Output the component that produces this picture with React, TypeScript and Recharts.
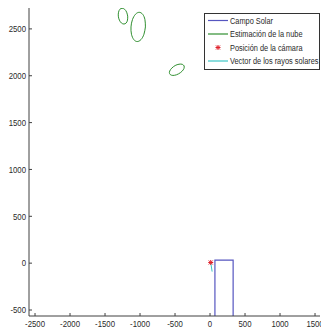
import React from 'react';
import { ComposedChart, Line, Scatter, XAxis, YAxis, Legend } from 'recharts';

// outline points (x, y in metres)
const campoSolar = [
  { x: 70, y: -700 },
  { x: 70, y: 32 },
  { x: 330, y: 32 },
  { x: 330, y: -700 },
];

const nube1 = [
  { x: -1176, y: 2636 }, { x: -1191, y: 2678 }, { x: -1220, y: 2709 }, { x: -1256, y: 2720 },
  { x: -1288, y: 2709 }, { x: -1307, y: 2678 }, { x: -1310, y: 2636 }, { x: -1295, y: 2594 },
  { x: -1266, y: 2563 }, { x: -1230, y: 2552 }, { x: -1198, y: 2563 }, { x: -1179, y: 2594 },
  { x: -1176, y: 2636 },
];

const nube2 = [
  { x: -923, y: 2521 }, { x: -930, y: 2599 }, { x: -962, y: 2656 }, { x: -1012, y: 2677 },
  { x: -1065, y: 2656 }, { x: -1108, y: 2599 }, { x: -1129, y: 2521 }, { x: -1122, y: 2443 },
  { x: -1089, y: 2386 }, { x: -1040, y: 2365 }, { x: -986, y: 2386 }, { x: -944, y: 2443 },
  { x: -923, y: 2521 },
];

const nube3 = [
  { x: -370, y: 2105 }, { x: -396, y: 2122 }, { x: -443, y: 2123 }, { x: -498, y: 2109 },
  { x: -547, y: 2081 }, { x: -576, y: 2050 }, { x: -578, y: 2023 }, { x: -552, y: 2006 },
  { x: -505, y: 2005 }, { x: -450, y: 2020 }, { x: -401, y: 2047 }, { x: -372, y: 2078 },
  { x: -370, y: 2105 },
];

const camara = [{ x: 10, y: 7 }];

const rayos = [
  { x: 10, y: 5 },
  { x: 30, y: -90 },
];

const xTicks = [-2500, -2000, -1500, -1000, -500, 0, 500, 1000, 1500];
const yTicks = [-500, 0, 500, 1000, 1500, 2000, 2500];
const xDomain = [-2586, 1571];
const yDomain = [-564, 2723];

const AXIS = '#404040';
const FONT = '"Liberation Sans", Arial, sans-serif';
const SQUEEZE = 0.82; // the original uses a narrow face

const BLUE = '#5656c0';
const GREEN = '#2f8f2f';
const RED = '#e0202a';
const CYAN = '#3cc4c4';

// text drawn in a condensed look
const Narrow = ({ x, y, anchor = 'start', size = 9, children }: any) => (
  <text
    transform={`translate(${x},${y}) scale(${SQUEEZE},1)`}
    textAnchor={anchor}
    fontSize={size}
    fontFamily={FONT}
    fill="#2a2a2a"
  >
    {children}
  </text>
);

const Star = ({ cx, cy }: any) => (
  <g stroke={RED} strokeWidth={1}>
    <line x1={cx - 2.5} y1={cy} x2={cx + 2.5} y2={cy} />
    <line x1={cx} y1={cy - 2.5} x2={cx} y2={cy + 2.5} />
    <line x1={cx - 2} y1={cy - 2} x2={cx + 2} y2={cy + 2} />
    <line x1={cx - 2} y1={cy + 2} x2={cx + 2} y2={cy - 2} />
  </g>
);

const BottomTick = ({ x, y, payload }: any) => (
  <g>
    <line x1={x} y1={y} x2={x} y2={y - 3} stroke={AXIS} />
    <Narrow x={x} y={y + 10.5} anchor="middle" size={9.5}>
      {payload.value}
    </Narrow>
  </g>
);

const LeftTick = ({ x, y, payload }: any) => (
  <g>
    <line x1={x} y1={y} x2={x + 3} y2={y} stroke={AXIS} />
    <Narrow x={x - 3} y={y + 3.3} anchor="end" size={9.5}>
      {payload.value}
    </Narrow>
  </g>
);

const TopTick = ({ x, y }: any) => <line x1={x} y1={y} x2={x} y2={y + 3} stroke={AXIS} />;
const RightTick = ({ x, y }: any) => <line x1={x} y1={y} x2={x - 3} y2={y} stroke={AXIS} />;

const legendItems = [
  { name: 'Campo Solar', color: BLUE, kind: 'line' },
  { name: 'Estimación de la nube', color: GREEN, kind: 'line' },
  { name: 'Posición de la cámara', color: RED, kind: 'star' },
  { name: 'Vector de los rayos solares', color: CYAN, kind: 'line' },
];

const LegendBox = () => (
  <svg width={116} height={57} style={{ display: 'block' }}>
    <rect x={0.5} y={0.5} width={115} height={56} fill="#fff" stroke="#333" />
    {legendItems.map((it, i) => {
      const cy = 7.5 + i * 13.5;
      return (
        <g key={it.name}>
          {it.kind === 'line' ? (
            <line x1={4} y1={cy} x2={24} y2={cy} stroke={it.color} strokeWidth={1.2} />
          ) : (
            <Star cx={14} cy={cy} />
          )}
          <Narrow x={26} y={cy + 3.2} size={9}>
            {it.name}
          </Narrow>
        </g>
      );
    })}
  </svg>
);

export default function App() {
  return (
    <div style={{ position: 'fixed', left: 0, top: 0, background: '#fff' }}>
      <ComposedChart width={321} height={329} margin={{ top: 8, right: 1, bottom: 0, left: 0 }}>
        <XAxis
          xAxisId="b"
          dataKey="x"
          type="number"
          domain={xDomain}
          ticks={xTicks}
          allowDataOverflow
          height={13}
          tickSize={0}
          tickMargin={0}
          tick={<BottomTick />}
          axisLine={{ stroke: AXIS }}
          interval={0}
        />
        <XAxis
          xAxisId="t"
          orientation="top"
          type="number"
          domain={xDomain}
          ticks={xTicks}
          allowDataOverflow
          height={0}
          tickSize={0}
          tickMargin={0}
          tick={<TopTick />}
          axisLine={{ stroke: AXIS }}
          interval={0}
        />
        <YAxis
          yAxisId="l"
          dataKey="y"
          type="number"
          domain={yDomain}
          ticks={yTicks}
          allowDataOverflow
          width={29}
          tickSize={0}
          tickMargin={0}
          tick={<LeftTick />}
          axisLine={{ stroke: AXIS }}
          interval={0}
        />
        <YAxis
          yAxisId="r"
          orientation="right"
          type="number"
          domain={yDomain}
          ticks={yTicks}
          allowDataOverflow
          width={0}
          tickSize={0}
          tickMargin={0}
          tick={<RightTick />}
          axisLine={{ stroke: '#9a9a9a' }}
          interval={0}
        />
        <Line xAxisId="b" yAxisId="l" data={campoSolar} dataKey="y" name="Campo Solar" type="linear" stroke={BLUE} strokeWidth={1.2} dot={false} activeDot={false} isAnimationActive={false} />
        <Line xAxisId="b" yAxisId="l" data={nube1} dataKey="y" name="Estimación de la nube" type="natural" stroke={GREEN} strokeWidth={1} dot={false} activeDot={false} isAnimationActive={false} />
        <Line xAxisId="b" yAxisId="l" data={nube2} dataKey="y" legendType="none" type="natural" stroke={GREEN} strokeWidth={1} dot={false} activeDot={false} isAnimationActive={false} />
        <Line xAxisId="b" yAxisId="l" data={nube3} dataKey="y" legendType="none" type="natural" stroke={GREEN} strokeWidth={1} dot={false} activeDot={false} isAnimationActive={false} />
        <Scatter xAxisId="b" yAxisId="l" data={camara} dataKey="y" name="Posición de la cámara" fill={RED} shape={<Star />} isAnimationActive={false} />
        <Line xAxisId="b" yAxisId="l" data={rayos} dataKey="y" name="Vector de los rayos solares" type="linear" stroke={CYAN} strokeWidth={1} dot={false} activeDot={false} isAnimationActive={false} />
        <Legend
          layout="vertical"
          align="center"
          verticalAlign="middle"
          content={<LegendBox />}
          wrapperStyle={{ position: 'absolute', left: 204, top: 13, width: 116, height: 57 }}
        />
      </ComposedChart>
    </div>
  );
}
